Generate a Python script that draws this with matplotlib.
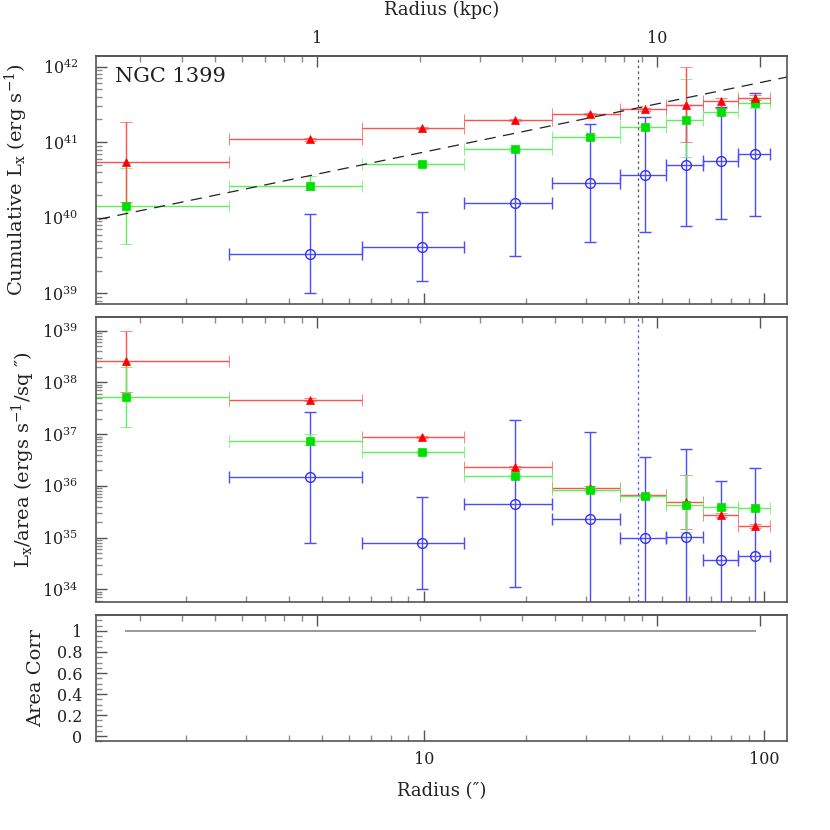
import numpy as np
import matplotlib
matplotlib.use("Agg")
import matplotlib.pyplot as plt
from matplotlib.ticker import FixedLocator, FuncFormatter, LogLocator, NullFormatter, MultipleLocator

plt.rcParams['font.family'] = ['DejaVu Serif']
plt.rcParams['mathtext.fontset'] = 'dejavuserif'

# ---------------- data ----------------
bin_edges = [0.0, 2.665, 6.57, 13.11, 23.85, 37.64, 51.5, 66.0, 83.85, 104.4]   # arcsec

# cumulative Lx (erg/s)
red_cum    = [5.42e40, 1.09e41, 1.54e41, 1.95e41, 2.34e41, 2.73e41, 3.11e41, 3.55e41, 3.89e41]
red_cum_hi = [1.84e41, 1.13e41, 1.59e41, 2.01e41, 2.42e41, 2.85e41, 1.00e42, 3.89e41, 4.27e41]
red_cum_lo = [1.63e40, 1.05e41, 1.50e41, 1.90e41, 2.26e41, 2.62e41, 1.02e41, 2.88e41, 3.63e41]

green_cum    = [1.45e40, 2.63e40, 5.20e40, 8.05e40, 1.18e41, 1.58e41, 1.97e41, 2.51e41, 3.27e41]
green_cum_hi = [4.52e40, 3.60e40, 5.50e40, 8.50e40, 1.26e41, 1.70e41, 6.87e41, 2.75e41, 3.63e41]
green_cum_lo = [4.50e39, 2.34e40, 4.90e40, 7.60e40, 1.11e41, 1.47e41, 6.46e40, 2.29e41, 2.82e41]

blue_cum    = [np.nan, 3.31e39, 4.14e39, 1.57e40, 2.86e40, 3.72e40, 4.95e40, 5.62e40, 6.92e40]
blue_cum_hi = [np.nan, 1.11e40, 1.20e40, 8.13e40, 1.73e41, 2.14e41, 3.09e41, 2.95e41, 4.47e41]
blue_cum_lo = [np.nan, 1.00e39, 1.47e39, 3.09e39, 4.73e39, 6.46e39, 7.76e39, 9.77e39, 1.07e40]

# Lx / area (erg/s/sq arcsec)
red_sb    = [2.56e38, 4.63e37, 8.90e36, 2.28e36, 9.20e35, 6.60e35, 4.90e35, 2.75e35, 1.66e35]
red_sb_hi = [1.00e39, 4.90e37, 9.30e36, 2.40e36, 9.80e35, 7.00e35, 1.60e36, 2.95e35, 1.80e35]
red_sb_lo = [6.60e37, 4.40e37, 8.50e36, 2.15e36, 8.70e35, 6.20e35, 1.48e35, 2.55e35, 1.55e35]

green_sb    = [5.22e37, 7.46e36, 4.47e36, 1.53e36, 8.50e35, 6.30e35, 4.37e35, 3.85e35, 3.72e35]
green_sb_hi = [1.95e38, 1.02e37, 4.70e36, 1.62e36, 9.00e35, 6.70e35, 1.62e36, 4.10e35, 3.95e35]
green_sb_lo = [1.38e37, 6.30e36, 4.25e36, 1.45e36, 8.00e35, 5.90e35, 1.29e35, 3.60e35, 3.50e35]

blue_sb    = [np.nan, 1.46e36, 7.85e34, 4.57e35, 2.32e35, 9.80e34, 1.05e35, 3.63e34, 4.47e34]
blue_sb_hi = [np.nan, 2.69e37, 6.17e35, 1.86e37, 1.12e37, 3.55e36, 5.13e36, 1.26e36, 2.24e36]
blue_sb_lo = [np.nan, 7.76e34, 1.00e34, 1.12e34, 1.0e33, 1.0e33, 1.0e33, 1.0e33, 1.0e33]

area_corr = [1.0] * 9

# model line (power law) and marker line
dash_norm10 = 7.41e40   # L at 10 arcsec
dash_slope = 0.93
r_mark = 42.7           # arcsec, dotted vertical line
KPC_PER_ARCSEC = 0.206

XLIM = (1.086, 116.4)

# ---------------- helpers ----------------
edges = np.array(bin_edges)
centers = 0.5 * (edges[:-1] + edges[1:])
xerr = [centers - edges[:-1], edges[1:] - centers]

RED_L, RED_M = '#ff5050', '#ff0000'
GRN_L, GRN_M = '#5cf05c', '#00e000'
BLU_L, BLU_M = '#4c4cff', '#3030ff'

SPINE = '#555555'
MINOR = '#8a8a8a'
TXT = '#222222'
TICKFS = 11.5
LABFS = 14


def series(ax, y, hi, lo, lc, mc, marker, ms, open_=False):
    y = np.array(y, float)
    yerr = [y - np.array(lo, float), np.array(hi, float) - y]
    kw = dict(mfc='none', mec=mc, mew=1.0) if open_ else dict(mfc=mc, mec=mc, mew=0.5)
    ax.errorbar(centers, y, yerr=yerr, xerr=xerr, fmt=marker, ms=ms, color=lc,
                ecolor=lc, elinewidth=1.0, capsize=4, capthick=1.0, **kw)


def style(ax):
    ax.set_xscale('log')
    ax.set_xlim(*XLIM)
    for s in ax.spines.values():
        s.set_color(SPINE)
        s.set_linewidth(1.2)
    ax.tick_params(which='both', direction='in', top=False, right=False, colors=SPINE,
                   labelsize=TICKFS, labelcolor=TXT)
    ax.tick_params(which='major', length=8, width=1.0)
    ax.tick_params(which='minor', length=4.3, width=1.0, colors=MINOR)
    ax.xaxis.set_major_locator(FixedLocator([1, 10, 100]))
    ax.xaxis.set_minor_locator(LogLocator(base=10, subs=np.arange(2, 10)))
    ax.xaxis.set_minor_formatter(NullFormatter())
    sec = ax.secondary_xaxis('top', functions=(lambda r: r * KPC_PER_ARCSEC,
                                               lambda k: k / KPC_PER_ARCSEC))
    sec.xaxis.set_major_locator(FixedLocator([1, 10, 20]))
    sec.xaxis.set_major_formatter(FuncFormatter(lambda v, p: '%g' % v if v < 15 else ''))
    sec.xaxis.set_minor_locator(FixedLocator([0.3, 0.4, 0.5, 0.6, 0.7, 0.8, 0.9,
                                              2, 3, 4, 5, 6, 7, 8, 9]))
    sec.xaxis.set_minor_formatter(NullFormatter())
    sec.spines['top'].set_color(SPINE)
    sec.spines['top'].set_linewidth(1.2)
    sec.tick_params(which='both', direction='in', colors=SPINE, labelsize=TICKFS,
                    labelcolor=TXT)
    sec.tick_params(which='major', length=8, width=1.0, pad=6)
    sec.tick_params(which='minor', length=4.3, width=1.0, colors=MINOR)
    return sec


def logy(ax, lo, hi):
    ax.set_yscale('log')
    ax.set_ylim(lo, hi)
    ax.yaxis.set_major_locator(LogLocator(base=10, numticks=20))
    ax.yaxis.set_minor_locator(LogLocator(base=10, subs=np.arange(2, 10), numticks=20))
    ax.yaxis.set_minor_formatter(NullFormatter())
    ax.yaxis.set_major_formatter(FuncFormatter(lambda v, p: r'$10^{%d}$' % round(np.log10(v))))
    ax.tick_params(axis='y', which='major', pad=13)


fig = plt.figure(figsize=(8.3, 8.3), dpi=100)
L, W = 96.2 / 830, 690.3 / 830
ax1 = fig.add_axes([L, 1 - 304.3 / 830, W, 248.6 / 830])
ax2 = fig.add_axes([L, 1 - 602.3 / 830, W, 285.0 / 830])
ax3 = fig.add_axes([L, 1 - 741.3 / 830, W, 126.6 / 830])

# ---- top panel ----
sec1 = style(ax1)
logy(ax1, 10 ** 38.855, 10 ** 42.145)
series(ax1, blue_cum, blue_cum_hi, blue_cum_lo, BLU_L, BLU_M, 'o', 7, open_=True)
series(ax1, green_cum, green_cum_hi, green_cum_lo, GRN_L, GRN_M, 's', 5.2)
series(ax1, red_cum, red_cum_hi, red_cum_lo, RED_L, RED_M, '^', 6)
xd = np.array([XLIM[0] * 0.9, XLIM[1] * 1.1])
ax1.plot(xd, dash_norm10 * (xd / 10.0) ** dash_slope, color=TXT, lw=0.9,
         dashes=(9, 6))
ax1.axvline(r_mark, color='#555555', lw=0.9, ls=(0, (2, 2.5)))
ax1.set_xlim(*XLIM)
ax1.tick_params(axis='x', labelbottom=False)
ax1.text(0.027, 0.918, 'NGC 1399', transform=ax1.transAxes, fontsize=15,
         va='center', ha='left', color=TXT)
ax1.set_ylabel('Cumulative L$_\\mathrm{x}$ (erg s$^{-1}$)', fontsize=LABFS, color=TXT)
ax1.yaxis.set_label_coords(-0.096, 0.5)
sec1.set_xlabel('Radius (kpc)', fontsize=13, color=TXT, labelpad=11)

# ---- middle panel ----
sec2 = style(ax2)
logy(ax2, 10 ** 33.75, 10 ** 39.26)
series(ax2, blue_sb, blue_sb_hi, blue_sb_lo, BLU_L, BLU_M, 'o', 7, open_=True)
series(ax2, red_sb, red_sb_hi, red_sb_lo, RED_L, RED_M, '^', 6)
series(ax2, green_sb, green_sb_hi, green_sb_lo, GRN_L, GRN_M, 's', 5.2)
ax2.axvline(r_mark, color='#5050ff', lw=0.9, ls=(0, (2, 2.5)))
ax2.set_xlim(*XLIM)
ax2.set_ylim(10 ** 33.75, 10 ** 39.26)
ax2.tick_params(axis='x', labelbottom=False)
sec2.tick_params(labeltop=False)
ax2.set_ylabel('L$_\\mathrm{x}$/area (ergs s$^{-1}$/sq \u2033)', fontsize=LABFS, color=TXT)
ax2.yaxis.set_label_coords(-0.086, 0.5)

# ---- bottom panel ----
sec3 = style(ax3)
sec3.tick_params(labeltop=False)
ax3.plot([centers[0], centers[-1]], [area_corr[0], area_corr[-1]], color='#999999', lw=1.4)
ax3.set_ylim(-0.05, 1.155)
ax3.yaxis.set_major_locator(MultipleLocator(0.2))
ax3.yaxis.set_minor_locator(MultipleLocator(0.05))
ax3.yaxis.set_major_formatter(FuncFormatter(lambda v, p: '%g' % round(v, 1)))
ax3.tick_params(axis='y', which='major', pad=10)
ax3.xaxis.set_major_formatter(FuncFormatter(lambda v, p: '%g' % v))
ax3.tick_params(axis='x', which='major', pad=7)
ax3.set_ylabel('Area Corr', fontsize=LABFS, color=TXT)
ax3.yaxis.set_label_coords(-0.074, 0.5)
ax3.set_xlabel('Radius (\u2033)', fontsize=13, color=TXT, labelpad=10)

fig.savefig('out.png', dpi=100)
